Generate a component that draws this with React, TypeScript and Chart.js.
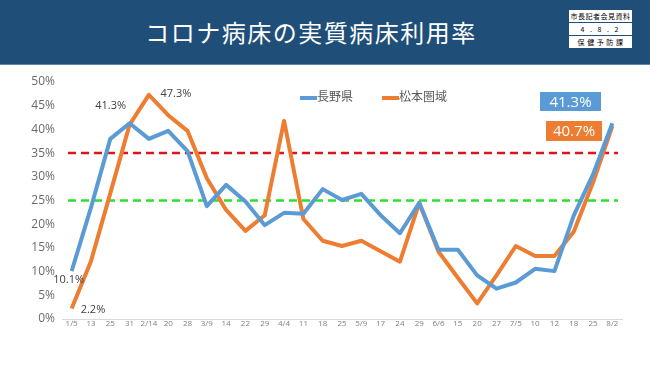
import React, { useEffect, useRef } from "react";
import { Chart, registerables } from "chart.js";

Chart.register(...registerables);

const categories = ["1/5","13","25","31","2/14","20","28","3/9","14","22","29","4/4","11","18","25","5/9","17","24","29","6/6","15","20","27","7/5","10","12","18","25","8/2"];
const naganoValues = [10.1,23.5,38,41.3,38,39.7,35.4,23.8,28.3,24.8,19.8,22.4,22.2,27.4,25.1,26.4,21.9,18.1,24.5,14.6,14.6,9.2,6.4,7.7,10.6,10.1,21.8,30.5,41.3];
const matsumotoValues = [2.2,12.2,26.5,41,47.3,43,39.7,29.7,23,18.6,21.9,41.8,21.1,16.5,15.4,16.5,14.3,12.1,24.5,14.2,8.7,3.3,9.2,15.4,13.3,13.3,18.4,28.8,40.7];
const seriesNames = ["長野県", "松本圏域"];
const thresholdRed = 35;
const thresholdGreen = 25;
const yTicks = { min: 0, max: 50, step: 5 };
const title = "コロナ病床の実質病床利用率";
const badgeRows = ["市長記者会見資料", "4 . 8 . 2", "保 健 予 防 課"];

const BLUE = "#5b9bd5";
const ORANGE = "#ed7d31";
const FONT = "'Open Sans', 'Noto Sans CJK JP', sans-serif";

const overlayPlugin = {
  id: "overlay",
  beforeDatasetsDraw(chart: any) {
    const { ctx, chartArea, scales } = chart;
    const y = scales.y;
    ctx.save();
    ctx.lineWidth = 2.5;
    ctx.setLineDash([8, 5]);
    [[thresholdRed, "#e0141c"], [thresholdGreen, "#2ee02e"]].forEach(([v, c]: any) => {
      const py = y.getPixelForValue(v);
      ctx.strokeStyle = c;
      ctx.beginPath();
      ctx.moveTo(chartArea.left + 6, py);
      ctx.lineTo(chartArea.right - 4, py);
      ctx.stroke();
    });
    ctx.restore();
  },
  afterDraw(chart: any) {
    const { ctx, scales } = chart;
    const x = scales.x;
    const y = scales.y;
    ctx.save();
    // data labels
    ctx.fillStyle = "#404040";
    ctx.font = `11px ${FONT}`;
    ctx.textAlign = "center";
    ctx.textBaseline = "middle";
    const lab = (i: number, v: number, dx: number, dy: number) => {
      ctx.fillText(v.toFixed(1) + "%", x.getPixelForValue(i) + dx, y.getPixelForValue(v) + dy);
    };
    lab(0, naganoValues[0], -3, 9);
    ctx.fillText(matsumotoValues[0].toFixed(1) + "%", x.getPixelForValue(1) + 2, y.getPixelForValue(matsumotoValues[0]) + 1);
    lab(3, naganoValues[3], -19, -17);
    lab(4, matsumotoValues[4], 27, -1);

    // legend
    const legendItems = [
      { name: seriesNames[0], color: BLUE, x: 300 },
      { name: seriesNames[1], color: ORANGE, x: 382 },
    ];
    ctx.font = `12px ${FONT}`;
    ctx.textAlign = "left";
    legendItems.forEach((it) => {
      ctx.strokeStyle = it.color;
      ctx.lineWidth = 4;
      ctx.setLineDash([]);
      ctx.beginPath();
      ctx.moveTo(it.x, 98);
      ctx.lineTo(it.x + 17, 98);
      ctx.stroke();
      ctx.fillStyle = "#595959";
      ctx.fillText(it.name, it.x + 17, 98);
    });

    // last value boxes
    const last = naganoValues.length - 1;
    const boxes = [
      { v: naganoValues[last], color: BLUE, x: 540, y: 92, w: 61, h: 19 },
      { v: matsumotoValues[last], color: ORANGE, x: 546, y: 121, w: 56, h: 20 },
    ];
    ctx.font = `15px ${FONT}`;
    ctx.textAlign = "center";
    boxes.forEach((b) => {
      ctx.fillStyle = b.color;
      ctx.fillRect(b.x, b.y, b.w, b.h);
      ctx.fillStyle = "#ffffff";
      ctx.fillText(b.v.toFixed(1) + "%", b.x + b.w / 2, b.y + b.h / 2 + 1);
    });
    ctx.restore();
  },
};

export default function App() {
  const ref = useRef<HTMLCanvasElement>(null);
  useEffect(() => {
    document.body.style.margin = "0";
    const chart = new Chart(ref.current!, {
      type: "line",
      data: {
        labels: categories,
        datasets: [
          { label: seriesNames[0], data: naganoValues, borderColor: BLUE, backgroundColor: BLUE, borderWidth: 4, pointRadius: 0, tension: 0, borderJoinStyle: "round" as any },
          { label: seriesNames[1], data: matsumotoValues, borderColor: ORANGE, backgroundColor: ORANGE, borderWidth: 4, pointRadius: 0, tension: 0, borderJoinStyle: "round" as any },
        ],
      },
      options: {
        animation: false,
        responsive: false,
        devicePixelRatio: 1,
        layout: { padding: { top: 82, right: 28, bottom: 26, left: 0 } },
        plugins: { legend: { display: false }, tooltip: { enabled: false } },
        scales: {
          x: {
            offset: true,
            grid: { display: false, drawTicks: false },
            border: { display: true, color: "#d9d9d9", width: 1 },
            ticks: { autoSkip: false, maxRotation: 0, padding: 0, color: "#7f7f7f", font: { size: 8, family: FONT } },
            afterFit: (s: any) => { s.height = 20; },
          },
          y: {
            min: yTicks.min,
            max: yTicks.max,
            grid: { display: false, drawTicks: false },
            border: { display: false },
            ticks: { stepSize: yTicks.step, padding: 7, color: "#6b6b6b", font: { size: 12, family: FONT }, callback: (v: any) => v + "%" },
            afterFit: (s: any) => { s.width = 62; },
          },
        },
      },
      plugins: [overlayPlugin],
    });
    return () => chart.destroy();
  }, []);

  return (
    <div style={{ position: "absolute", left: 0, top: 0, width: 650, height: 365, background: "#fff", overflow: "hidden" }}>
      <canvas ref={ref} width={650} height={365} style={{ position: "absolute", left: 0, top: 0 }} />
      <div style={{ position: "absolute", left: 0, top: 0, width: 650, height: 64, background: "#1f4e79", borderBottom: "1px solid #5f86ad" }}>
        <div style={{ position: "absolute", left: 0, width: 622, top: 17, textAlign: "center", color: "#fff", fontFamily: "'Noto Sans CJK JP', sans-serif", fontSize: 24, lineHeight: "30px", letterSpacing: 1.5 }}>{title}</div>
        <div style={{ position: "absolute", left: 569, top: 10, width: 63, background: "#fff", fontFamily: "'Noto Sans CJK JP', sans-serif", fontSize: 7, color: "#000" }}>
          {badgeRows.map((r, i) => (
            <div key={i} style={{ height: 12, lineHeight: "12px", borderTop: i ? "1px solid #1f4e79" : "none", textAlign: "center", whiteSpace: "pre", letterSpacing: i === 1 ? 2 : 0.5 }}>{r}</div>
          ))}
        </div>
      </div>
    </div>
  );
}
